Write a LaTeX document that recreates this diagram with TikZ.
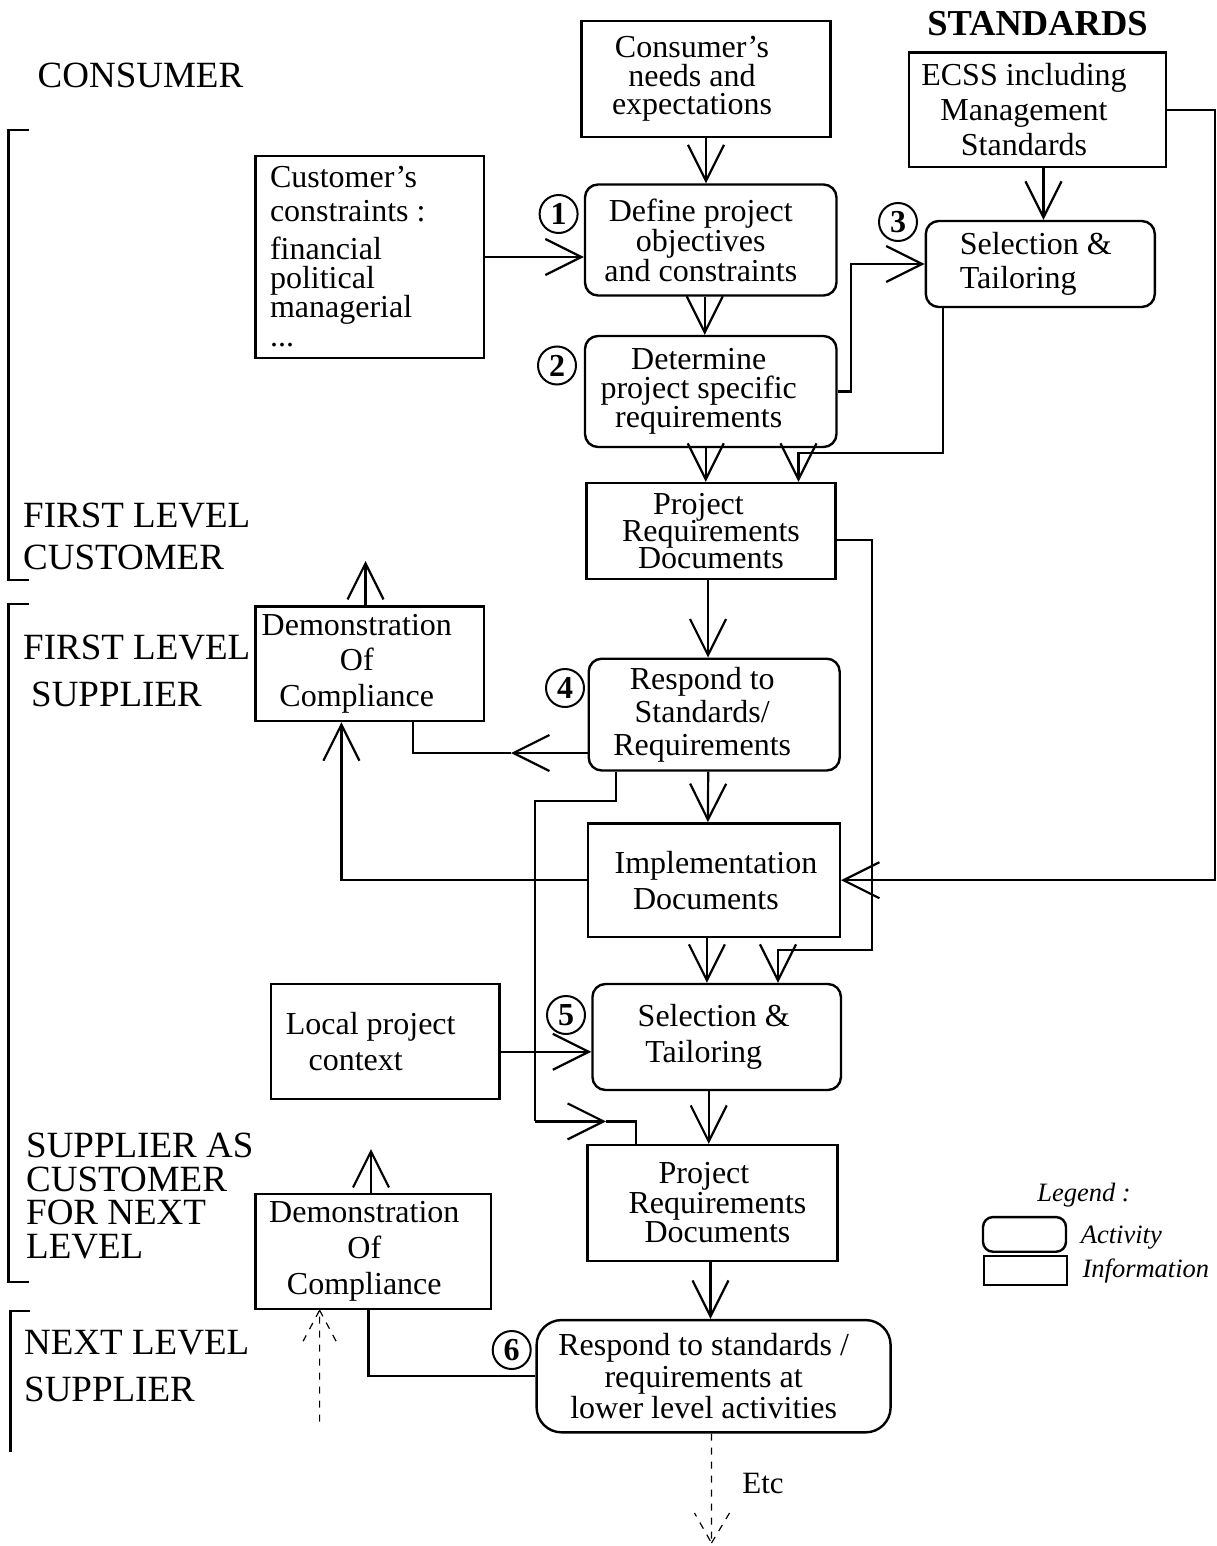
\documentclass[tikz,border=0pt]{standalone}
\usepackage{fontspec}
\setmainfont{Liberation Serif}
\usetikzlibrary{arrows.meta}
\newcommand\ctext[4]{\hspace*{#1}\vbox{\fontsize{#2}{#3}\selectfont\lineskiplimit=-100pt\relax\halign{\hfil##\hfil\cr#4\crcr}}\hspace*{-#1}}
\newcommand\ltext[4]{\hbox to #1{\hspace*{#2}\vbox{\fontsize{32}{#3}\selectfont\lineskiplimit=-100pt\relax\halign{##\hfil\cr#4\crcr}}\hfil}}
\newcommand\lab[2]{\vbox{\fontsize{37}{#1}\selectfont\lineskiplimit=-100pt\relax\halign{##\hfil\cr#2\crcr}}}
\tikzset{
 info/.style={draw, line width=2.4pt, inner sep=0pt, rectangle},
 act/.style={info, rounded corners=13pt},
 arr/.style={line width=2.2pt, -{Straight Barb[length=36pt,width=36pt]}},
 ln/.style={line width=2.2pt},
 num/.style={draw, circle, line width=2pt, minimum size=38pt, inner sep=0pt, font=\fontsize{32}{32}\selectfont\bfseries},
 dsh/.style={line width=1.2pt, dash pattern=on 7pt off 7pt},
 lbl/.style={anchor=west, inner sep=0pt},
 brk/.style={line width=2.4pt},
}
\begin{document}
\begin{tikzpicture}[x=1pt,y=-1pt]
\useasboundingbox (0,0) rectangle (1217,1546);
% ---- side labels
\node[lbl] (lconsumer) at (37.5,75) {\lab{40}{CONSUMER}};
\node[lbl] (lflc) at (23,536) {\lab{42}{FIRST LEVEL\cr CUSTOMER}};
\node[lbl] (lfls) at (23,670.5) {\lab{47}{FIRST LEVEL\cr\hspace*{8pt}SUPPLIER}};
\node[lbl] (lsac) at (26,1196) {\lab{33.9}{SUPPLIER AS\cr CUSTOMER\cr FOR NEXT\cr LEVEL}};
\node[lbl] (lnls) at (24,1366.5) {\lab{47}{NEXT LEVEL\cr SUPPLIER}};
\node[inner sep=0pt] (lstd) at (1037.5,24) {\fontsize{36.5}{38}\selectfont\bfseries STANDARDS};
% ---- brackets
\draw[brk] (28.7,130) -- (8.4,130) -- (8.4,580) -- (28.7,580);
\draw[brk] (28.7,604) -- (8.4,604) -- (8.4,1282) -- (28.7,1282);
\draw[brk] (30,1311) -- (10.3,1311) -- (10.3,1452);
% ---- boxes
\node[info, minimum width=249pt, minimum height=115.6pt] (consumer) at (706,79)
  {\ctext{-14pt}{32}{28.5}{Consumer's\cr needs and\cr expectations}};
\node[info, minimum width=228.4pt, minimum height=202pt] (custc) at (369.8,257)
  {\ltext{228.4pt}{14.4pt}{29}{Customer's\cr\noalign{\vskip5pt}constraints :\cr\noalign{\vskip9pt}financial\cr political\cr managerial\cr ...}};
\node[act, minimum width=251.5pt, minimum height=111pt] (define) at (710.75,240)
  {\ctext{-10pt}{32}{30}{Define project\cr objectives\cr and constraints}};
\node[act, minimum width=251.5pt, minimum height=111pt] (determine) at (710.75,391.5)
  {\ctext{-12pt}{32}{29}{Determine\cr project specific\cr requirements}};
\node[info, minimum width=257pt, minimum height=114.6pt] (ecss) at (1037.5,109.7)
  {\ctext{-13.5pt}{32}{35}{ECSS including\cr Management\cr Standards}};
\node[act, minimum width=229pt, minimum height=86pt] (sel3) at (1040.3,264)
  {\ltext{229pt}{34pt}{34}{Selection \&\cr Tailoring}};
\node[info, minimum width=249pt, minimum height=96pt] (prd1) at (711,531)
  {\ctext{0pt}{32}{27}{Project\hspace*{25pt}\cr Requirements\cr Documents}};
\node[info, minimum width=228.4pt, minimum height=114.7pt] (demo1) at (369.8,663.7)
  {\ctext{-13pt}{32}{35.5}{Demonstration\cr Of\cr Compliance}};
\node[act, minimum width=251pt, minimum height=111.8pt] (resp4) at (714.2,714.6)
  {\ctext{-12pt}{32}{33}{Respond to\cr Standards/\cr Requirements}};
\node[info, minimum width=251.7pt, minimum height=113.7pt] (impl) at (713.9,880.2)
  {\ctext{2pt}{32}{36}{Implementation\cr Documents\hspace*{20pt}}};
\node[act, minimum width=248.5pt, minimum height=106pt] (sel5) at (716.7,1037)
  {\ctext{-3pt}{32}{36}{Selection \&\cr Tailoring\hspace*{20pt}}};
\node[info, minimum width=228.4pt, minimum height=115.3pt] (local) at (385.2,1041.4)
  {\ctext{-14.5pt}{32}{36}{Local project\cr context\hspace*{30pt}}};
\node[info, minimum width=250pt, minimum height=115.7pt] (prd2) at (712.5,1202.9)
  {\ctext{5pt}{32}{29.5}{Project\hspace*{27pt}\cr Requirements\cr Documents}};
\node[info, minimum width=235.4pt, minimum height=115pt] (demo2) at (373.3,1251.5)
  {\ctext{-9pt}{32}{36}{Demonstration\cr Of\cr Compliance}};
\node[info, rounded corners=25pt, minimum width=354pt, minimum height=112.3pt] (resp6) at (713.6,1376.2)
  {\ctext{-10pt}{32}{31.5}{Respond to standards /\cr requirements at\cr lower level activities}};
% ---- numbers
\node[num] (c1) at (558.6,214) {1};
\node[num] (c2) at (557,365.5) {2};
\node[num] (c3) at (898,222) {3};
\node[num] (c4) at (565,688) {4};
\node[num] (c5) at (566,1015) {5};
\node[num] (c6) at (511.7,1350) {6};
% ---- legend
\node[inner sep=0pt] (leghead) at (1084,1195) {\fontsize{26.5}{28}\selectfont\itshape Legend :};
\node[info, rounded corners=10pt, minimum width=83pt, minimum height=34.7pt] (legact) at (1024.5,1234.4) {};
\node[info, minimum width=83pt, minimum height=29.3pt] (leginfo) at (1025.5,1270.4) {};
\node[lbl] (legacttxt) at (1080.6,1238) {\fontsize{26.5}{28}\selectfont\itshape Activity};
\node[lbl] (leginfotxt) at (1082.4,1271) {\fontsize{26.5}{28}\selectfont\itshape Information};
\node[inner sep=0pt] (etc) at (763,1483) {\fontsize{31}{32}\selectfont Etc};
% ---- helper coordinates
\coordinate (xA) at (943,0);
\coordinate (jA) at (798.5,452.7);
\coordinate (xB) at (872,539.6);
\coordinate (jC) at (778,949.6);
\coordinate (xD) at (1215,0);
\coordinate (jE) at (511,753);
\coordinate (xF) at (413,0);
\coordinate (xG) at (341.4,0);
\coordinate (jH) at (535,801);
\coordinate (jI) at (606,1121.4);
\coordinate (xJ) at (616,0);
\coordinate (xK) at (636,0);
\coordinate (jL) at (0,1051.8);
\coordinate (xM) at (368.5,0);
\coordinate (up1) at (365.5,561);
\coordinate (up2) at (371,1149);
\coordinate (dd1) at (319.6,1421.7);
\coordinate (dd2) at (711.5,1543);
% ---- connectors
\draw[arr] (consumer.south) -- (consumer.south |- define.north);
\draw[arr] (custc.east) -- (custc.east -| define.west);
\draw[arr] ([xshift=-6pt]define.south) -- ([xshift=-6pt]determine.north);
\draw[arr] (determine.east) -- ++(13.5,0) |- (sel3.west);
\draw[arr] ([xshift=6pt]ecss.south) -- ([xshift=6pt]ecss.south |- sel3.north);
\draw[arr] (sel3.south -| xA) |- (jA) -- (jA |- prd1.north);
\draw[arr] ([xshift=-5pt]determine.south) -- ([xshift=-5pt]determine.south |- prd1.north);
\draw[arr] (prd1.east |- xB) -- (xB) |- (jC) -- (jC |- sel5.north);
\draw[arr] (ecss.east) -| (impl.east -| xD) -- (impl.east);
\draw[arr] ([xshift=-3pt]prd1.south) -- ([xshift=-3pt]prd1.south |- resp4.north);
\draw[arr] (resp4.west |- jE) -- (jE);
\draw[ln] (jE) -| (demo1.south -| xF);
\draw[arr] ([xshift=-6pt]resp4.south) -- ([xshift=-6pt]impl.north);
\draw[arr] (impl.west) -| (demo1.south -| xG);
\draw[ln] (resp4.south -| xJ) |- (jH) -- (jH |- jI);
\draw[arr] (jH |- jI) -- (jI);
\draw[ln] (jI) -| (prd2.north -| xK);
\draw[arr] ([xshift=-7pt]impl.south) -- ([xshift=-7pt]impl.south |- sel5.north);
\draw[arr] (local.east |- jL) -- (sel5.west |- jL);
\draw[arr] ([xshift=-8pt]sel5.south) -- ([xshift=-8pt]sel5.south |- prd2.north);
\draw[arr] ([xshift=-2pt]prd2.south) -- ([xshift=-2pt]prd2.south |- resp6.north);
\draw[ln] (demo2.south -| xM) |- (resp6.west);
\draw[arr] (demo1.north -| up1) -- (up1);
\draw[arr] (demo2.north -| up2) -- (up2);
\draw[dsh] (dd1) -- (demo2.south -| dd1) -- ++(-16.5,31) (demo2.south -| dd1) -- ++(16.5,31);
\draw[dsh] (resp6.south -| dd2) -- (dd2) -- ++(-17,-30) (dd2) -- ++(18,-30);
\end{tikzpicture}
\end{document}
